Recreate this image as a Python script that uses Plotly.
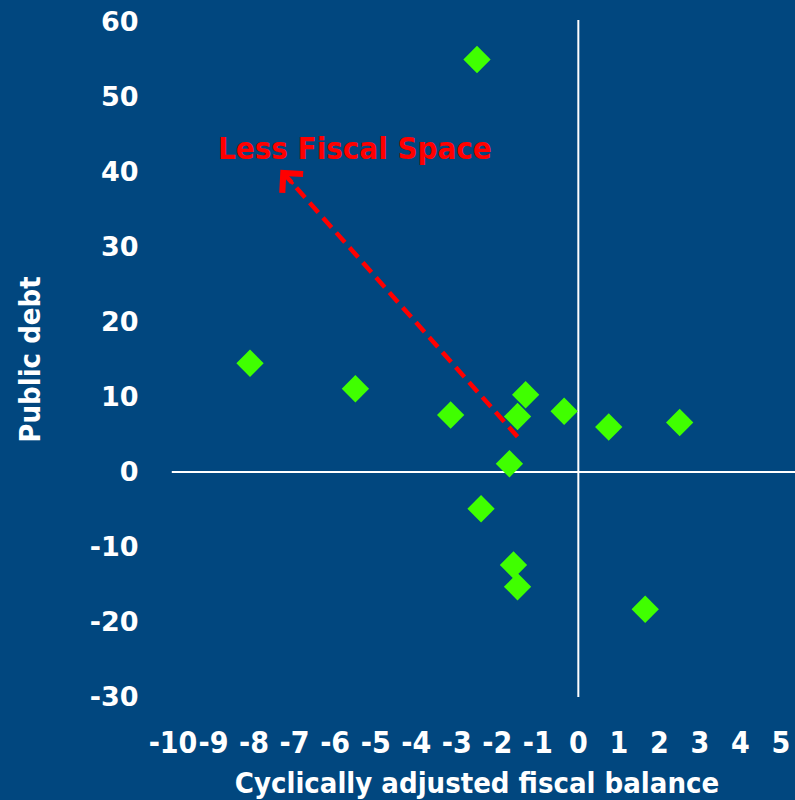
import plotly.graph_objects as go

# Cyclically adjusted fiscal balance (x) vs public debt (y)
fiscal_balance = [-2.5, -8.1, -5.5, -3.15, -1.3, -1.5, -0.35, 0.75, 2.5, -1.7, -2.4, -1.6, -1.5, 1.65]
public_debt = [55.0, 14.5, 11.1, 7.6, 10.3, 7.4, 8.1, 6.0, 6.6, 1.1, -4.9, -12.4, -15.3, -18.3]

x_ticks = list(range(-10, 6))
y_ticks = list(range(-30, 61, 10))

# Arrow showing the direction of shrinking fiscal space
arrow_start = (-1.5, 4.7)
arrow_end = (-7.35, 40.3)
arrow_label = "Less Fiscal Space"
label_pos = (-5.5, 43.2)

BG = "#01477F"
GREEN = "#40FF00"
RED = "#FF0000"
WHITE = "#FFFFFF"
FONT = "DejaVu Sans Condensed, DejaVu Sans, sans-serif"

fig = go.Figure()

fig.add_trace(go.Scatter(
    x=fiscal_balance, y=public_debt, mode="markers",
    marker=dict(symbol="diamond", size=21, color=GREEN, line=dict(width=0)),
    hoverinfo="x+y", showlegend=False,
))

# Dashed shaft (beneath the markers)
fig.add_shape(type="line", xref="x", yref="y",
              x0=arrow_start[0], y0=arrow_start[1], x1=arrow_end[0], y1=arrow_end[1],
              line=dict(color=RED, width=4.5, dash="13px,7px"), layer="below")
# Open arrowhead at the tip
fig.add_annotation(x=arrow_end[0], y=arrow_end[1], ax=arrow_end[0] + 0.35, ay=arrow_end[1] - 2.1,
                   xref="x", yref="y", axref="x", ayref="y", text="",
                   showarrow=True, arrowhead=4, arrowsize=1.8, arrowwidth=3, arrowcolor=RED)
fig.add_annotation(x=label_pos[0], y=label_pos[1], xref="x", yref="y", text=f"<b>{arrow_label}</b>",
                   showarrow=False, font=dict(family=FONT, size=31, color=RED))

# Axis cross lines through the origin
fig.add_shape(type="line", xref="paper", yref="y", x0=-0.002, x1=1.03, y0=0, y1=0,
              line=dict(color=WHITE, width=2), layer="below")
fig.add_shape(type="line", xref="x", yref="paper", x0=0, x1=0, y0=0, y1=1.003,
              line=dict(color=WHITE, width=2), layer="below")

fig.update_layout(
    width=795, height=800,
    margin=dict(l=173, r=14, t=22, b=103),
    paper_bgcolor=BG, plot_bgcolor=BG,
    font=dict(family=FONT, color=WHITE),
    xaxis=dict(
        range=[-10, 5], tickvals=x_ticks, ticktext=[f"<b>{v}</b>" for v in x_ticks],
        tickangle=0,
        showgrid=False, zeroline=False, showline=False, automargin=False,
        ticks="outside", ticklen=19, tickcolor="rgba(0,0,0,0)",
        tickfont=dict(family=FONT, size=30, color=WHITE),
        title=dict(text="<b>Cyclically adjusted fiscal balance</b>",
                   font=dict(family=FONT, size=29, color=WHITE), standoff=19),
    ),
    yaxis=dict(
        range=[-30, 60], tickvals=y_ticks, ticktext=[f"<b>{v}</b>" for v in y_ticks],
        showgrid=False, zeroline=False, showline=False, automargin=False,
        ticks="outside", ticklen=28, tickcolor="rgba(0,0,0,0)",
        tickfont=dict(family="DejaVu Sans, sans-serif", size=27, color=WHITE),
        title=dict(text="<b>Public debt</b>", font=dict(family=FONT, size=29, color=WHITE), standoff=40),
    ),
)

fig.write_html("out.html")
